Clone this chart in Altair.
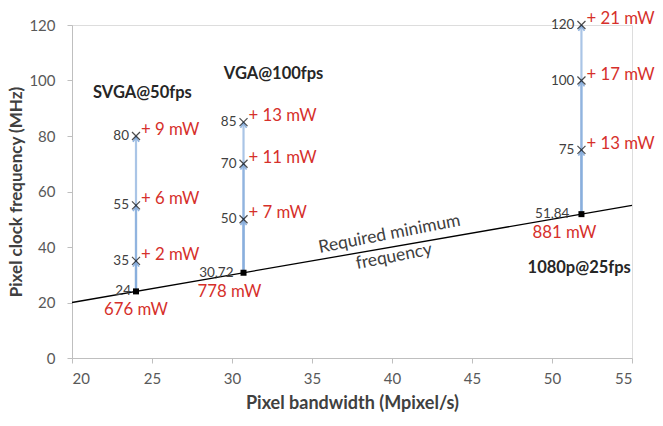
import altair as alt
import pandas as pd

# ---- data ----
groups = ["SVGA@50fps", "VGA@100fps", "1080p@25fps"]
base_bw = [24.0, 30.72, 51.84]
base_freq = [24.0, 30.72, 51.84]
base_label = ["24", "30,72", "51,84"]
base_power = ["676 mW", "778 mW", "881 mW"]
target_freqs = [[35, 55, 80], [50, 70, 85], [75, 100, 120]]
extra_power = [["+ 2 mW", "+ 6 mW", "+ 9 mW"],
               ["+ 7 mW", "+ 11 mW", "+ 13 mW"],
               ["+ 13 mW", "+ 17 mW", "+ 21 mW"]]
req_x = [20, 55]
req_y = [20, 55]
group_label_x = [24.4, 32.6, 51.7]
group_label_y = [95.5, 102.3, 32.4]
x_ticks = [20, 25, 30, 35, 40, 45, 50, 55]
y_ticks = [0, 20, 40, 60, 80, 100, 120]

FONT = "Lato"
RED = "#D6302B"
GRAY = "#404040"
BLUE = "#86ACDC"

# per-group label nudges (style)
base_label_dx = [-5, -10, -12]
base_power_dx = [0, -14, -17]

xs = alt.Scale(domain=[20, 55], nice=False, zero=False)
ys = alt.Scale(domain=[0, 120], nice=False)

xenc = alt.X("x:Q", scale=xs, axis=alt.Axis(
    title="Pixel bandwidth (Mpixel/s)", values=x_ticks, grid=False,
    domainColor="#BFBFBF", tickColor="#BFBFBF", tickSize=5,
    labelColor="#595959", labelFontSize=15, labelPadding=8, labelFont=FONT,
    titleFont=FONT, titleFontSize=18, titleColor=GRAY, titleFontWeight="bold",
    titlePadding=8))
yenc = alt.Y("y:Q", scale=ys, axis=alt.Axis(
    title="Pixel clock frequency (MHz)", values=y_ticks, grid=False,
    domainColor="#BFBFBF", tickColor="#BFBFBF", tickSize=5,
    labelColor="#595959", labelFontSize=15, labelPadding=12, labelFont=FONT,
    titleFont=FONT, titleFontSize=17, titleColor=GRAY, titleFontWeight="bold",
    titlePadding=3))

req_df = pd.DataFrame({"x": req_x, "y": req_y})
req_line = alt.Chart(req_df).mark_line(color="black", strokeWidth=1.3).encode(x=xenc, y=yenc)

req_text_df = pd.DataFrame({"x": [40.0], "y": [40.0]})
req_t1 = alt.Chart(req_text_df).mark_text(
    text="Required minimum", angle=349, dy=-13, font=FONT, fontSize=17.5,
    color=GRAY).encode(x="x:Q", y="y:Q")
req_t2 = alt.Chart(req_text_df).mark_text(
    text="frequency", angle=349, dy=10, font=FONT, fontSize=17.5,
    color=GRAY).encode(x="x:Q", y="y:Q")

layers = [req_line, req_t1, req_t2]

for i, g in enumerate(groups):
    tdf = pd.DataFrame({
        "x": [base_bw[i]] * 3,
        "y0": [base_freq[i]] * 3,
        "y": target_freqs[i],
        "num": [str(v) for v in target_freqs[i]],
        "pw": extra_power[i],
    })
    bdf = pd.DataFrame({"x": [base_bw[i]], "y": [base_freq[i]],
                        "num": [base_label[i]], "pw": [base_power[i]]})
    arrows = alt.Chart(tdf).mark_rule(color=BLUE, strokeWidth=2.2, opacity=0.7).encode(
        x="x:Q", y="y0:Q", y2="y:Q")
    heads = alt.Chart(tdf).mark_point(shape="M-1,0.6L0,-1L1,0.6", size=36, filled=False,
                                      color=BLUE, strokeWidth=1.6, opacity=0.9,
                                      yOffset=4).encode(x="x:Q", y="y:Q")
    crosses = alt.Chart(tdf).mark_point(shape="M-1,-1L1,1M1,-1L-1,1", size=64,
                                        filled=False, color="black", strokeWidth=1.2).encode(x="x:Q", y="y:Q")
    nums = alt.Chart(tdf).mark_text(align="right", dx=-7, dy=0, font=FONT, fontSize=13.5,
                                    color=GRAY).encode(x="x:Q", y="y:Q", text="num:N")
    pws = alt.Chart(tdf).mark_text(align="left", dx=5, dy=-6, font=FONT, fontSize=16.8,
                                   color=RED).encode(x="x:Q", y="y:Q", text="pw:N")
    sq = alt.Chart(bdf).mark_point(shape="square", size=36, filled=True, color="black",
                                   opacity=1).encode(x="x:Q", y="y:Q")
    bnum = alt.Chart(bdf).mark_text(align="right", dx=base_label_dx[i], dy=0, font=FONT,
                                    fontSize=13.5, color=GRAY).encode(x="x:Q", y="y:Q", text="num:N")
    bpw = alt.Chart(bdf).mark_text(align="center", dx=base_power_dx[i], dy=19, font=FONT,
                                   fontSize=16.8, color=RED).encode(x="x:Q", y="y:Q", text="pw:N")
    gl = alt.Chart(pd.DataFrame({"x": [group_label_x[i]], "y": [group_label_y[i]],
                                 "t": [g]})).mark_text(
        font=FONT, fontSize=16.5, fontWeight="bold", color="#262626").encode(
        x="x:Q", y="y:Q", text="t:N")
    layers += [arrows, heads, crosses, nums, pws, sq, bnum, bpw, gl]

chart = alt.layer(*layers).properties(
    width=560, height=333,
    autosize=alt.AutoSizeParams(type="none"),
    padding={"left": 72, "top": 25, "right": 31, "bottom": 68},
).configure_view(stroke=None).configure(background="white")

chart.save("out.html", embed_options={"renderer": "svg", "actions": False})
